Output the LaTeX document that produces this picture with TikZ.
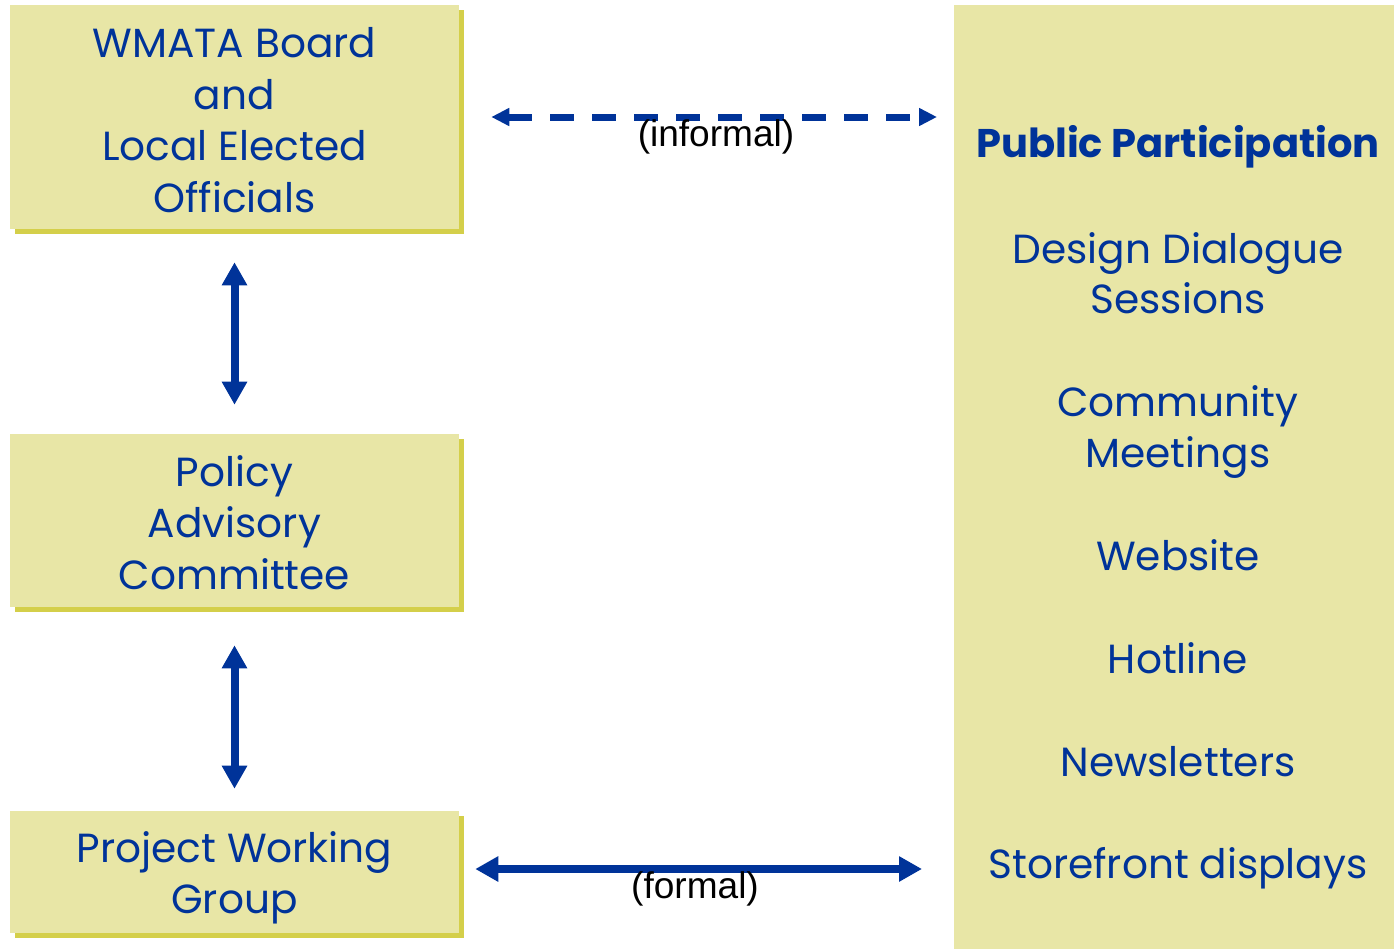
\documentclass[tikz,border=0pt]{standalone}
\usepackage{fontspec}
\setmainfont{Poppins}
\newfontfamily\arialfont{Liberation Sans}
\usetikzlibrary{arrows.meta,shadows}
\definecolor{boxfill}{RGB}{232,230,166}
\definecolor{boxshadow}{RGB}{212,207,74}
\definecolor{navy}{RGB}{0,51,153}
\tikzset{
  box/.style={fill=boxfill, draw=none, inner sep=0pt,
    drop shadow={shadow xshift=3.75pt, shadow yshift=-3.75pt, fill=boxshadow, opacity=1}},
  boxtext/.style={inner sep=0pt, align=center, text=navy,
    font=\fontsize{30.5pt}{38.6pt}\selectfont},
  panel/.style={fill=boxfill, draw=none, inner sep=0pt},
  item/.style={anchor=base, inner sep=0pt, text=navy, font=\fontsize{30.5pt}{38.8pt}\selectfont},
  lbl/.style={anchor=base, inner sep=0pt, text=black, font=\arialfont\fontsize{27.8pt}{30pt}\selectfont},
  biarrow/.style={navy, line width=6pt, {Triangle[length=17.25pt,width=18pt]}-{Triangle[length=17.25pt,width=18pt]}},
  dasharrow/.style={navy, line width=5.25pt, dash pattern=on 18pt off 13.5pt,
    {Triangle[length=13.5pt,width=12.75pt]}-{Triangle[length=13.5pt,width=12.75pt]}}
}
\begin{document}
\begin{tikzpicture}[x=0.75pt,y=-0.75pt]
\useasboundingbox (0,0) rectangle (1394,949);
% left boxes
\node[box, minimum width=336.75pt, minimum height=168pt] (wmata) at (234.5,117) {};
\node[boxtext] (wmataT) at ([yshift=-2.25pt]wmata.center) {WMATA Board\\and\\Local Elected\\Officials};
\node[box, minimum width=336.75pt, minimum height=129.75pt] (pac) at (234.5,520.5) {};
\node[boxtext] (pacT) at ([yshift=-1.5pt]pac.center) {Policy\\Advisory\\Committee};
\node[box, minimum width=336.75pt, minimum height=91.5pt] (pwg) at (234.5,872) {};
\node[boxtext] (pwgT) at ([yshift=-4.5pt]pwg.center) {Project Working\\Group};
% right panel
\node[panel, anchor=north west, minimum width=330pt, minimum height=708pt] (panel) at (954,5) {};
\node[item, font=\fontsize{30pt}{38.8pt}\selectfont\bfseries] (pp) at (1178,157) {Public Participation};
\node[item] (dd1) at (1178,263) {Design Dialogue};
\node[item] (dd2) at (1178,313) {Sessions};
\node[item] (cm1) at (1178,416) {Community};
\node[item] (cm2) at (1178,467) {Meetings};
\node[item] (web) at (1178,570) {Website};
\node[item] (hot) at (1178,673) {Hotline};
\node[item] (news) at (1178,776) {Newsletters};
\node[item] (store) at (1178,878) {Storefront displays};
% vertical arrows
\draw[biarrow, shorten <=24.75pt, shorten >=21.75pt] (wmata.south) -- (pac.north);
\draw[biarrow, shorten <=28.5pt, shorten >=16.5pt] (pac.south) -- (pwg.north);
% horizontal arrows
\draw[dasharrow, shorten <=24pt, shorten >=12.75pt] (wmata.east) -- (wmata.east -| panel.west);
\draw[biarrow, shorten <=12pt, shorten >=24pt] ([shift={(0,-3)}]pwg.east) -- ([shift={(0,-3)}]pwg.east -| panel.west);
% labels
\node[lbl] (informal) at (716,146) {(informal)};
\node[lbl] (formal) at (695,898) {(formal)};
\end{tikzpicture}
\end{document}
